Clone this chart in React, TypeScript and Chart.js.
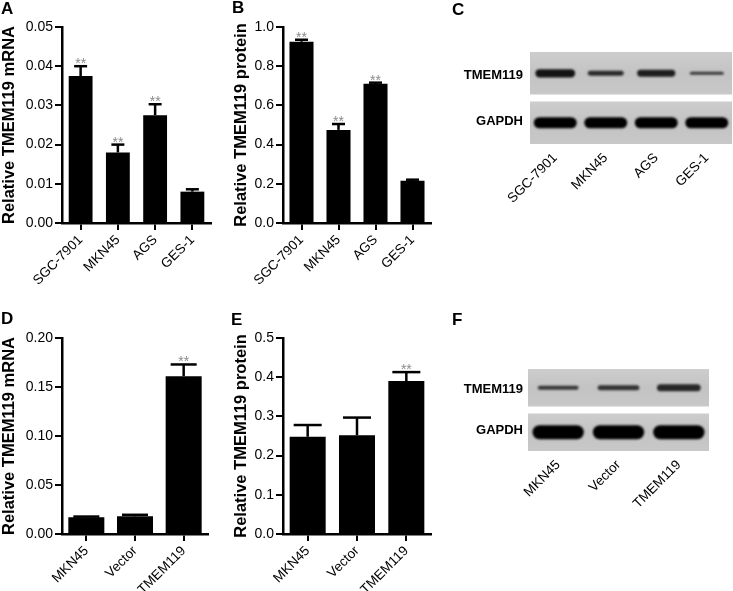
import React, { useEffect, useRef } from "react";
import { Chart, registerables } from "chart.js";

Chart.register(...registerables);

const FONT = "'Liberation Sans', Arial, Helvetica, sans-serif";

// ---------- Panel A: relative TMEM119 mRNA in cell lines ----------
const cellLines = ["SGC-7901", "MKN45", "AGS", "GES-1"];
const mrnaA = [0.0375, 0.018, 0.0275, 0.008];
const mrnaAUpper = [0.04, 0.02, 0.0303, 0.0086];
const sigA = ["**", "**", "**", ""];
const ticksA = [0, 0.01, 0.02, 0.03, 0.04, 0.05];

// ---------- Panel B: relative TMEM119 protein in cell lines ----------
const proteinB = [0.925, 0.475, 0.71, 0.215];
const proteinBUpper = [0.935, 0.505, 0.716, 0.221];
const sigB = ["**", "**", "**", ""];
const ticksB = [0, 0.2, 0.4, 0.6, 0.8, 1.0];

// ---------- Panel D: relative TMEM119 mRNA after transfection ----------
const groups = ["MKN45", "Vector", "TMEM119"];
const mrnaD = [0.017, 0.018, 0.161];
const mrnaDUpper = [0.0178, 0.0196, 0.173];
const sigD = ["", "", "**"];
const ticksD = [0, 0.05, 0.1, 0.15, 0.2];

// ---------- Panel E: relative TMEM119 protein after transfection ----------
const proteinE = [0.248, 0.252, 0.39];
const proteinEUpper = [0.278, 0.297, 0.413];
const sigE = ["", "", "**"];
const ticksE = [0, 0.1, 0.2, 0.3, 0.4, 0.5];

// ---------- Western blots (band strength, relative) ----------
const blotRows = ["TMEM119", "GAPDH"];
const blotC_TMEM119 = [0.75, 0.45, 0.62, 0.28];
const blotC_GAPDH = [1, 1, 1, 1];
const blotF_TMEM119 = [0.3, 0.36, 0.5];
const blotF_GAPDH = [1, 1, 1];

type Geo = {
  left: number;
  top: number;
  width: number;
  height: number;
  axisW: number;
  axisH: number;
  padTop: number;
  padRight: number;
};

function makeErrPlugin(upper: number[], sig: string[], cap: number) {
  return {
    id: "errbars",
    afterDatasetsDraw(chart: any) {
      const { ctx } = chart;
      const meta = chart.getDatasetMeta(0);
      const ys = chart.scales.y;
      ctx.save();
      meta.data.forEach((el: any, i: number) => {
        const top = ys.getPixelForValue(upper[i]);
        const x = el.x;
        ctx.strokeStyle = "#000";
        ctx.lineWidth = 2.5;
        ctx.beginPath();
        ctx.moveTo(x, el.y);
        ctx.lineTo(x, top);
        ctx.stroke();
        ctx.beginPath();
        ctx.moveTo(x - cap / 2, top);
        ctx.lineTo(x + cap / 2, top);
        ctx.stroke();
        if (sig[i]) {
          ctx.fillStyle = "#8a8a8a";
          ctx.font = `14px ${FONT}`;
          ctx.textAlign = "center";
          ctx.textBaseline = "alphabetic";
          ctx.fillText(sig[i], x, top + 2);
        }
      });
      ctx.restore();
    },
  };
}

function BarPanel(props: {
  geo: Geo;
  labels: string[];
  values: number[];
  upper: number[];
  sig: string[];
  ticks: number[];
  decimals: number;
  title: string;
  barPct: number;
  cap: number;
}) {
  const ref = useRef<HTMLCanvasElement | null>(null);
  const { geo } = props;
  useEffect(() => {
    if (!ref.current) return;
    const yMax = props.ticks[props.ticks.length - 1];
    const chart = new Chart(ref.current, {
      type: "bar",
      data: {
        labels: props.labels,
        datasets: [
          {
            data: props.values,
            backgroundColor: "#000",
            borderWidth: 0,
            barPercentage: props.barPct,
            categoryPercentage: 1,
          },
        ],
      },
      options: {
        animation: false,
        responsive: false,
        devicePixelRatio: 1,
        layout: { padding: { top: geo.padTop, right: geo.padRight, left: 0, bottom: 0 } },
        plugins: { legend: { display: false }, tooltip: { enabled: false } },
        scales: {
          x: {
            grid: {
              display: true,
              drawOnChartArea: false,
              drawTicks: true,
              tickLength: 7,
              offset: false,
              color: "#000",
              lineWidth: 2,
            },
            border: { display: true, color: "#000", width: 2.5 },
            ticks: {
              color: "#000",
              font: { family: FONT, size: 13.5 },
              minRotation: 45,
              maxRotation: 45,
              padding: 2,
              autoSkip: false,
            },
            afterFit: (s: any) => {
              s.height = geo.axisH;
            },
          },
          y: {
            min: 0,
            max: yMax,
            grid: {
              display: true,
              drawOnChartArea: false,
              drawTicks: true,
              tickLength: 7,
              color: "#000",
              lineWidth: 2,
            },
            border: { display: true, color: "#000", width: 2.5 },
            ticks: {
              color: "#000",
              font: { family: FONT, size: 14 },
              padding: 2,
              callback: (v: any) => Number(v).toFixed(props.decimals),
            },
            afterBuildTicks: (s: any) => {
              s.ticks = props.ticks.map((v) => ({ value: v }));
            },
            title: {
              display: true,
              text: props.title,
              color: "#000",
              font: { family: FONT, size: 16.5, weight: "bold" },
              padding: { top: 0, bottom: 0 },
            },
            afterFit: (s: any) => {
              s.width = geo.axisW;
            },
          },
        },
      },
      plugins: [makeErrPlugin(props.upper, props.sig, props.cap)],
    } as any);
    return () => chart.destroy();
  }, []);
  return (
    <canvas
      ref={ref}
      width={geo.width}
      height={geo.height}
      style={{ position: "absolute", left: geo.left, top: geo.top, width: geo.width, height: geo.height }}
    />
  );
}

function makeBlotPlugin(rows: number[][], maxH: number, gap: number) {
  return {
    id: "blot",
    beforeDatasetsDraw(chart: any) {
      const { ctx, chartArea: ca, scales } = chart;
      const xs = scales.x;
      const rowH = (ca.bottom - ca.top) / rows.length;
      const laneW = (ca.right - ca.left) / rows[0].length;
      rows.forEach((vals, r) => {
        const top = ca.top + r * rowH + (r > 0 ? gap / 2 : 0);
        const bot = ca.top + (r + 1) * rowH - (r < rows.length - 1 ? gap / 2 : 0);
        const g = ctx.createLinearGradient(0, top, 0, bot);
        g.addColorStop(0, "#cdcdcd");
        g.addColorStop(0.5, "#c3c3c3");
        g.addColorStop(1, "#c8c8c8");
        ctx.fillStyle = g;
        ctx.fillRect(ca.left, top, ca.right - ca.left, bot - top);
        const cy = (top + bot) / 2;
        vals.forEach((v, i) => {
          const cx = xs.getPixelForValue(i);
          const w = laneW * (0.6 + 0.25 * v);
          const h = maxH * v;
          ctx.save();
          ctx.filter = "blur(1px)";
          ctx.fillStyle = `rgba(0,0,0,${0.6 + 0.4 * v})`;
          ctx.beginPath();
          ctx.roundRect(cx - w / 2, cy - h / 2, w, h, h / 2);
          ctx.fill();
          ctx.restore();
        });
      });
    },
  };
}

function BlotPanel(props: {
  geo: Geo;
  lanes: string[];
  rows: number[][];
  maxH: number;
  labelPad: number;
}) {
  const ref = useRef<HTMLCanvasElement | null>(null);
  const { geo } = props;
  useEffect(() => {
    if (!ref.current) return;
    const chart = new Chart(ref.current, {
      type: "bar",
      data: { labels: props.lanes, datasets: [] },
      options: {
        animation: false,
        responsive: false,
        devicePixelRatio: 1,
        layout: { padding: { top: geo.padTop, right: geo.padRight, left: 0, bottom: 0 } },
        plugins: { legend: { display: false }, tooltip: { enabled: false } },
        scales: {
          x: {
            type: "category",
            offset: true,
            grid: { display: false, drawTicks: false },
            border: { display: false },
            ticks: {
              color: "#000",
              font: { family: FONT, size: 13.5 },
              minRotation: 45,
              maxRotation: 45,
              padding: 6,
              autoSkip: false,
            },
            afterFit: (s: any) => {
              s.height = geo.axisH;
            },
          },
          y: {
            type: "category",
            labels: blotRows,
            offset: true,
            grid: { display: false, drawTicks: false },
            border: { display: false },
            ticks: {
              color: "#000",
              font: { family: FONT, size: 13, weight: "bold" },
              padding: props.labelPad,
            },
            afterFit: (s: any) => {
              s.width = geo.axisW;
            },
          },
        },
      },
      plugins: [makeBlotPlugin(props.rows, props.maxH, 7)],
    } as any);
    return () => chart.destroy();
  }, []);
  return (
    <canvas
      ref={ref}
      width={geo.width}
      height={geo.height}
      style={{ position: "absolute", left: geo.left, top: geo.top, width: geo.width, height: geo.height }}
    />
  );
}

const letterStyle = (left: number, top: number): React.CSSProperties => ({
  position: "absolute",
  left,
  top,
  fontFamily: FONT,
  fontWeight: "bold",
  fontSize: 17,
  lineHeight: "17px",
  color: "#000",
});

export default function App() {
  return (
    <div style={{ position: "absolute", left: 0, top: 0, width: 733, height: 591, background: "#fff", overflow: "hidden" }}>
      <BarPanel
        geo={{ left: 0, top: 0, width: 232, height: 290, axisW: 62, axisH: 67, padTop: 27, padRight: 21 }}
        labels={cellLines}
        values={mrnaA}
        upper={mrnaAUpper}
        sig={sigA}
        ticks={ticksA}
        decimals={2}
        title="Relative TMEM119 mRNA"
        barPct={0.64}
        cap={13}
      />
      <BarPanel
        geo={{ left: 232, top: 0, width: 228, height: 290, axisW: 51, axisH: 67, padTop: 27, padRight: 29 }}
        labels={cellLines}
        values={proteinB}
        upper={proteinBUpper}
        sig={sigB}
        ticks={ticksB}
        decimals={1}
        title="Relative TMEM119 protein"
        barPct={0.65}
        cap={13}
      />
      <BlotPanel
        geo={{ left: 460, top: 0, width: 273, height: 290, axisW: 70, axisH: 146, padTop: 52, padRight: 1 }}
        lanes={cellLines}
        rows={[blotC_TMEM119, blotC_GAPDH]}
        maxH={11}
        labelPad={7}
      />
      <BarPanel
        geo={{ left: 0, top: 290, width: 232, height: 301, axisW: 62, axisH: 57, padTop: 48, padRight: 24 }}
        labels={groups}
        values={mrnaD}
        upper={mrnaDUpper}
        sig={sigD}
        ticks={ticksD}
        decimals={2}
        title="Relative TMEM119 mRNA"
        barPct={0.74}
        cap={26}
      />
      <BarPanel
        geo={{ left: 232, top: 290, width: 228, height: 301, axisW: 51, axisH: 57, padTop: 48, padRight: 29 }}
        labels={groups}
        values={proteinE}
        upper={proteinEUpper}
        sig={sigE}
        ticks={ticksE}
        decimals={1}
        title="Relative TMEM119 protein"
        barPct={0.73}
        cap={28}
      />
      <BlotPanel
        geo={{ left: 460, top: 290, width: 273, height: 301, axisW: 68, axisH: 140, padTop: 79, padRight: 24 }}
        lanes={groups}
        rows={[blotF_TMEM119, blotF_GAPDH]}
        maxH={14}
        labelPad={5}
      />
      <div style={letterStyle(1, 0)}>A</div>
      <div style={letterStyle(232, -1)}>B</div>
      <div style={letterStyle(452, 1)}>C</div>
      <div style={letterStyle(1, 310)}>D</div>
      <div style={letterStyle(231, 311)}>E</div>
      <div style={letterStyle(452, 311)}>F</div>
    </div>
  );
}
